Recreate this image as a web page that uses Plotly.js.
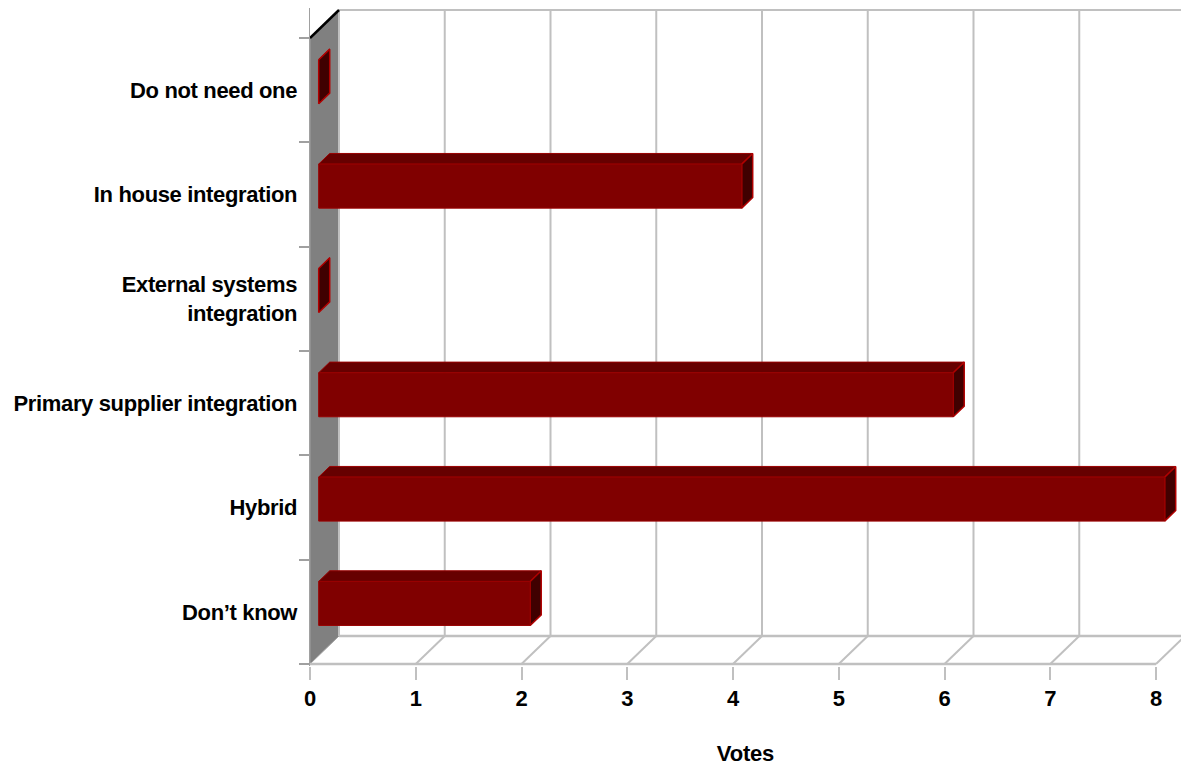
<!DOCTYPE html>
<html>
<head>
<meta charset="utf-8">
<script src="https://cdn.plot.ly/plotly-3.0.1.min.js"></script>
<style>
html,body{margin:0;padding:0;background:#fff;}
#chart{width:1181px;height:766px;}
#chart .ytick text{letter-spacing:-0.35px;}
#chart .xtitle{letter-spacing:-0.2px;}
</style>
</head>
<body>
<div id="chart"></div>
<script>
// Categories listed bottom-to-top
const categories = ["Don\u2019t know", "Hybrid", "Primary supplier integration", "External systems<br>integration", "In house integration", "Do not need one"];
const votes = [2, 8, 6, 0, 4, 0];
const xTicks = [0, 1, 2, 3, 4, 5, 6, 7, 8];
const axisTitle = "Votes";

// 3D geometry (in axis units)
const DX = 29 / 105.75;   // depth offset along x
const DY = 28 / 104.33;   // depth offset along y
const F1 = 0.30, F2 = 0.68; // bar front/back depth fractions
const H = 0.211;          // half bar thickness
const XMAX = 871 / 105.75;
const FONT = "'Liberation Sans Narrow', 'Arial Narrow', 'Liberation Sans', Arial, sans-serif";

const traces = [];
function poly(xs, ys, fill, lineColor, lw) {
  traces.push({type: 'scatter', mode: 'lines', x: xs.concat([xs[0]]), y: ys.concat([ys[0]]),
    fill: 'toself', fillcolor: fill, line: {color: lineColor, width: lw}, hoverinfo: 'skip', showlegend: false});
}
function seg(xs, ys, color, w) {
  traces.push({type: 'scatter', mode: 'lines', x: xs, y: ys, line: {color: color, width: w}, hoverinfo: 'skip', showlegend: false});
}
const n = categories.length;
const xLast = xTicks[xTicks.length - 1];
// left wall
poly([0, 0, DX, DX], [0, n, n + DY, DY], '#808080', '#a0a0a0', 1);
// back wall gridlines
xTicks.forEach(i => { if (i > 0) seg([i + DX, i + DX], [DY, n + DY], '#c0c0c0', 2); });
seg([DX, DX], [DY, n + DY], '#c0c0c0', 2);
seg([DX, xLast + DX], [n + DY, n + DY], '#c0c0c0', 2);
// floor
seg([0, xLast], [0, 0], '#c0c0c0', 2.5);
seg([DX, xLast + DX], [DY, DY], '#c0c0c0', 2.5);
xTicks.forEach(i => { if (i > 0) seg([i, i + DX], [0, DY], '#c0c0c0', 2); });
// black top edge of left wall
seg([0, DX], [n, n + DY], '#000000', 2.5);

// bars
votes.forEach((v, k) => {
  const yc = k + 0.5;
  const fx = F1 * DX, fy = F1 * DY, bx = F2 * DX, by = F2 * DY;
  const yB = yc - H, yT = yc + H;
  // top face
  poly([fx, v + fx, v + bx, bx], [yT + fy, yT + fy, yT + by, yT + by], '#660000', '#990000', 1);
  // right side face
  poly([v + fx, v + bx, v + bx, v + fx], [yT + fy, yT + by, yB + by, yB + fy], '#400000', '#b00000', 1.5);
  // front face
  if (v > 0) poly([fx, v + fx, v + fx, fx], [yB + fy, yB + fy, yT + fy, yT + fy], '#800000', '#990000', 1);
});

const layout = {
  width: 1181, height: 766,
  margin: {l: 310, r: 0, t: 8, b: 100},
  paper_bgcolor: '#ffffff', plot_bgcolor: 'rgba(0,0,0,0)',
  showlegend: false,
  font: {family: FONT, size: 22, color: '#000000'},
  xaxis: {
    range: [0, XMAX], showgrid: false, zeroline: false, showline: false,
    tickvals: xTicks, ticktext: xTicks.map(String),
    ticks: 'outside', ticklen: 13, tickwidth: 2, tickcolor: '#c0c0c0',
    ticklabelstandoff: 0,
    tickfont: {family: FONT, size: 22, color: '#000', weight: 'bold'},
    title: {text: axisTitle, font: {family: FONT, size: 22, color: '#000', weight: 'bold'}, standoff: 42}
  },
  yaxis: {
    range: [-2 / 104.33, 656 / 104.33], showgrid: false, zeroline: false,
    showline: true, linecolor: '#a0a0a0', linewidth: 1.5,
    tickvals: categories.map((c, i) => i + 0.5), ticktext: categories,
    ticks: 'outside', ticklen: 4, tickcolor: 'rgba(0,0,0,0)',
    ticklabelstandoff: 3,
    tickfont: {family: FONT, size: 22, color: '#000', weight: 'bold'},
    minor: {tickvals: categories.map((c, i) => i).concat([n]), ticks: 'outside', ticklen: 10, tickwidth: 2, tickcolor: '#a0a0a0', showgrid: false}
  }
};
Plotly.newPlot('chart', traces, layout, {displayModeBar: false, staticPlot: true});
</script>
</body>
</html>
